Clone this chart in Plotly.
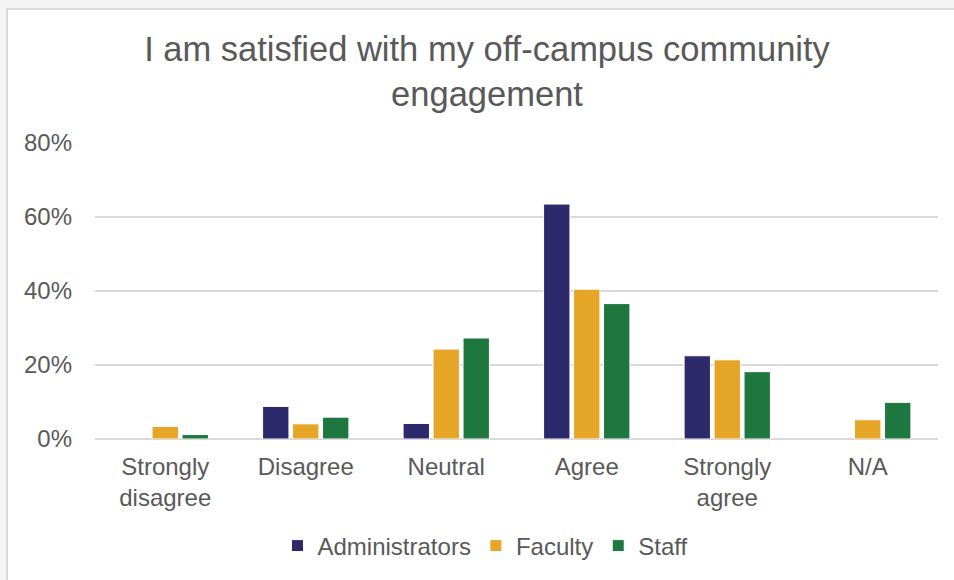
import plotly.graph_objects as go

categories = ["Strongly<br>disagree", "Disagree", "Neutral", "Agree", "Strongly<br>agree", "N/A"]
administrators = [None, 0.088, 0.042, 0.635, 0.225, None]
faculty = [0.034, 0.041, 0.243, 0.405, 0.214, 0.052]
staff = [0.012, 0.059, 0.273, 0.366, 0.182, 0.099]
series = [("Administrators", administrators, "#2D2A6C"),
          ("Faculty", faculty, "#E5A526"),
          ("Staff", staff, "#1F7740")]
y_ticks = [0, 0.2, 0.4, 0.6, 0.8]

W, H = 954, 580
L, R, T, B = 95, 16, 143, 141
pw, ph = W - L - R, H - T - B

fig = go.Figure()
for name, vals, col in series:
    fig.add_trace(go.Bar(name=name, x=categories, y=vals, marker_color=col,
                         marker_line=dict(color="white", width=1)))

font = "Liberation Sans, Arial, sans-serif"
fig.update_layout(
    width=W, height=H,
    margin=dict(l=L, r=R, t=T, b=B),
    paper_bgcolor="#F4F4F4", plot_bgcolor="rgba(0,0,0,0)",
    barmode="group", bargap=0.36, bargroupgap=0.12,
    font=dict(family=font, color="#595959", size=24),
    title=dict(text="I am satisfied with my off-campus community<br>engagement",
               x=487 / W, xref="container", xanchor="center",
               y=1 - 61 / H, yref="container", yanchor="middle",
               font=dict(size=34.5, color="#595959", family=font)),
    legend=dict(orientation="h", x=485 / W, xanchor="center", xref="container",
                y=1 - 546 / H, yanchor="middle", yref="container",
                bgcolor="white",
                font=dict(size=24, color="#595959"), traceorder="normal"),
    xaxis=dict(showline=False, showgrid=False, ticks="", ticklabelstandoff=11,
               tickfont=dict(size=24, color="#595959")),
    yaxis=dict(range=[0, 0.8], tickvals=y_ticks, tickformat=".0%",
               showgrid=True, gridcolor="#D9D9D9", gridwidth=1.5,
               zeroline=True, zerolinecolor="#D9D9D9", zerolinewidth=1.5,
               showline=False, ticks="", ticklabelstandoff=22,
               tickfont=dict(size=24, color="#595959")),
    shapes=[dict(type="rect", xref="paper", yref="paper", layer="below",
                 x0=(7 - L) / pw, x1=(W + 5 - L) / pw,
                 y0=-(H + 5 - (T + ph)) / ph, y1=(T + ph - 9) / ph,
                 fillcolor="white", line=dict(color="#D9D9D9", width=2))],
    showlegend=True,
)
fig.write_html("out.html", config={"displayModeBar": False},
               post_script="document.body.style.margin='0';document.body.style.overflow='hidden';")
